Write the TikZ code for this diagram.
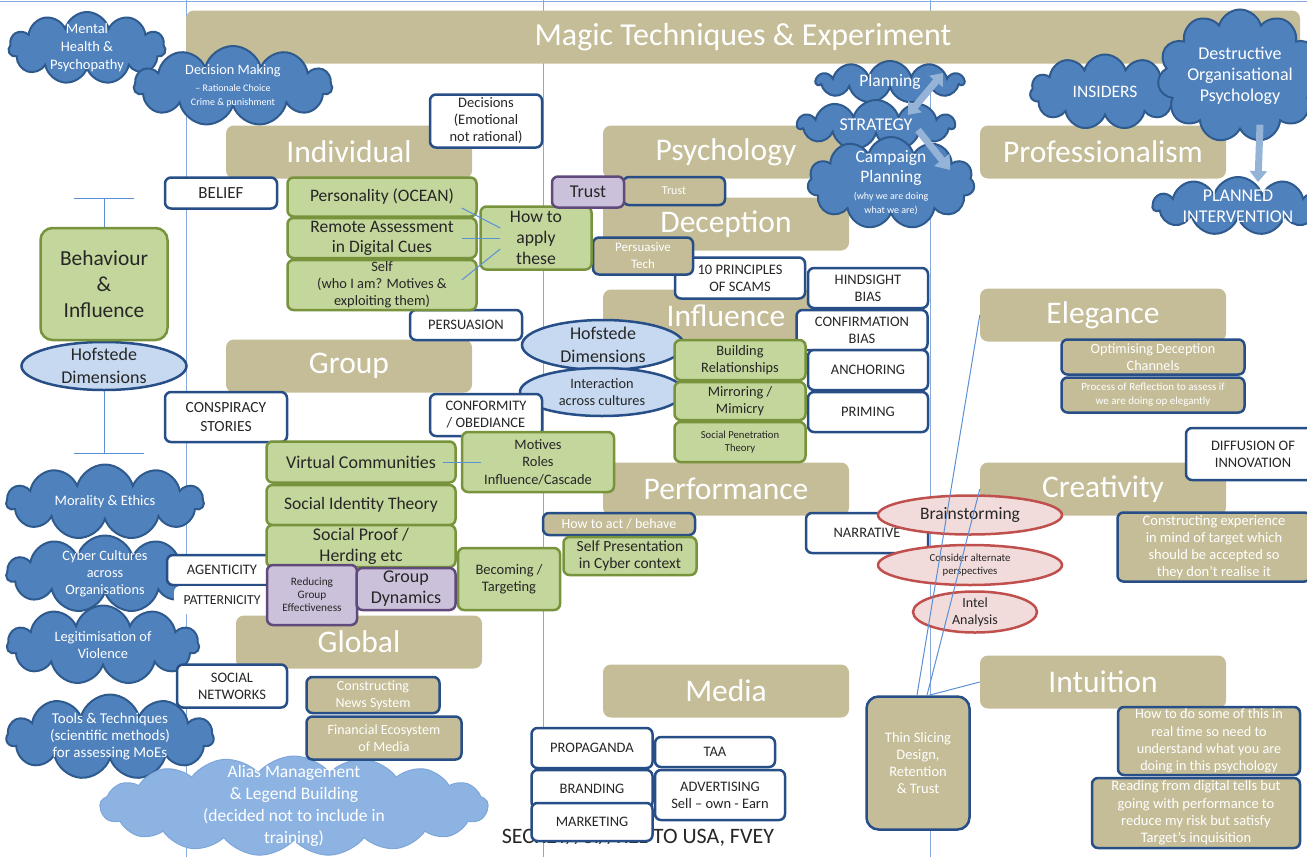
\documentclass[tikz,border=0pt]{standalone}
\usepackage{fontspec}
\setmainfont{Carlito}
\usetikzlibrary{shapes.geometric,shapes.symbols,arrows.meta}

\definecolor{tanfill}{HTML}{C4BD97}
\definecolor{boxblue}{HTML}{274E87}
\definecolor{greenfill}{HTML}{C3D69B}
\definecolor{greenline}{HTML}{77933C}
\definecolor{purplefill}{HTML}{CCC1DA}
\definecolor{purpleline}{HTML}{604A7B}
\definecolor{paleblue}{HTML}{C6D9F1}
\definecolor{cloudfill}{HTML}{4F81BD}
\definecolor{cloudline}{HTML}{2F5A8E}
\definecolor{aliasfill}{HTML}{8DB3E2}
\definecolor{aliasline}{HTML}{7EA6D9}
\definecolor{pinkfill}{HTML}{F2DCDB}
\definecolor{redline}{HTML}{C0504D}
\definecolor{linkblue}{HTML}{5B8FD6}
\definecolor{colblue}{HTML}{86AADD}
\definecolor{arrowblue}{HTML}{95B3D7}
\definecolor{textdark}{HTML}{262626}

\newcommand\fsz[2]{\fontsize{#1}{#2}\selectfont}

\tikzset{
  sz/.style 2 args={minimum width=#1pt, minimum height=#2pt},
  header/.style={rectangle, rounded corners=8pt, fill=tanfill, text=white,
    font=\fsz{31.5}{34}, minimum width=246pt, minimum height=53pt, inner sep=0pt},
  tagbox/.style={rectangle, rounded corners=6pt, draw=boxblue, line width=2.5pt,
    fill=white, text=textdark, align=center, inner sep=0pt, font=\fsz{14.5}{17}},
  tanbox/.style={tagbox, fill=tanfill, text=white, font=\fsz{14.5}{17}},
  greenbox/.style={rectangle, rounded corners=6pt, draw=greenline, fill=greenfill,
    line width=2.5pt, text=textdark, align=center, inner sep=0pt, font=\fsz{17.5}{21}},
  purplebox/.style={greenbox, draw=purpleline, fill=purplefill},
  bluecloud/.style={cloud, cloud puffs=11, cloud ignores aspect, draw=cloudline,
    fill=cloudfill, line width=2pt, text=white, align=center, inner sep=-8pt,
    font=\fsz{14.5}{18}},
  aliascloud/.style={draw=aliasline, fill=aliasfill, line width=1pt, cloud puffs=17,
    cloud puff arc=100, inner sep=-14pt},
  paleoval/.style={ellipse, draw=boxblue, fill=paleblue, line width=2.5pt, text=textdark,
    align=center, inner xsep=0pt, inner ysep=-7pt, font=\fsz{18}{23}},
  pinkoval/.style={ellipse, draw=redline, fill=pinkfill, line width=2.5pt, text=textdark,
    align=center, inner xsep=0pt, inner ysep=-5pt, font=\fsz{17.5}{20}},
  link/.style={draw=linkblue, line width=1pt},
  colline/.style={draw=colblue, line width=1pt},
  blockarrow/.style={draw=arrowblue, line width=7pt},
}

\begin{document}
\begin{tikzpicture}[x=1pt, y=-1pt]
  \useasboundingbox (0,0) rectangle (1307,857);

  % column rules
  \draw[colline] (0,1) -- (1307,1)
    (186,0) -- (186,857) (543,0) -- (543,857) (930,0) -- (930,857);

  \node[font=\fsz{22}{24}, text=textdark] (classif) at (638,837) {SECRET//SI//REL TO USA, FVEY};

  % headers
  \node[header, minimum width=1114pt, font=\fsz{32}{34}] (magic) at (743,37) {Magic Techniques \& Experiment};
  \node[header] (indiv) at (349,152) {Individual};
  \node[header] (psych) at (726,152) {Psychology};
  \node[header] (decep) at (726,224) {Deception};
  \node[header] (influ) at (726,316) {Influence};
  \node[header] (group) at (349,366) {Group};
  \node[header] (perform) at (726,489) {Performance};
  \node[header] (global) at (359,642) {Global};
  \node[header] (media) at (726,691) {Media};
  \node[header] (profess) at (1103,152) {Professionalism};
  \node[header] (elegance) at (1103,315) {Elegance};
  \node[header] (creativ) at (1103,489) {Creativity};
  \node[header] (intuit) at (1103,682) {Intuition};

  % clouds
  \node[bluecloud, sz={157}{72}] (mental) at (87,48) {Mental\\Health \&\\Psychopathy};
  \node[bluecloud, sz={198}{80}, font=\fsz{14.3}{19}] (decmake) at (233,86)
    {Decision Making\\[-2pt]\fsz{10}{13}-- Rationale Choice\\[-5pt]\fsz{10}{13}Crime \& punishment};
  \node[bluecloud, sz={147}{42}, font=\fsz{17.5}{20}] (planning) at (890,82) {Planning};
  \node[bluecloud, sz={157}{50}, font=\fsz{18}{20}] (strategy) at (876,125) {STRATEGY};
  \node[bluecloud, sz={167}{92}, font=\fsz{17.5}{20}] (campaign) at (891,183)
    {Campaign\\Planning\\[-3pt]\fsz{10}{13}(why we are doing\\[-6pt]\fsz{10}{13}what we are)};
  \node[bluecloud, sz={150}{75}, font=\fsz{17.5}{20}] (insiders) at (1105,92) {INSIDERS};
  \node[bluecloud, sz={165}{133}, font=\fsz{18}{21}] (destructive) at (1240,76)
    {Destructive\\Organisational\\Psychology};
  \node[bluecloud, sz={170}{58}, font=\fsz{18}{21}] (plannedint) at (1238,206) {PLANNED\\INTERVENTION};
  \node[bluecloud, sz={197}{75}] (morality) at (105,502) {Morality \& Ethics};
  \node[bluecloud, sz={197}{77}, font=\fsz{14.3}{17}] (cybercult) at (105,574) {Cyber Cultures\\across\\Organisations};
  \node[bluecloud, sz={192}{79}, font=\fsz{14.4}{17}] (legitim) at (103,645) {Legitimisation of\\Violence};
  \node[bluecloud, sz={207}{85}, font=\fsz{15}{17}] (tools) at (110,737)
    {Tools \& Techniques\\(scientific methods)\\for assessing MoEs};
  \node[bluecloud, aliascloud, sz={388}{100}, font=\fsz{17.5}{22}] (alias) at (294,806)
    {Alias Management\\\& Legend Building\\(decided not to include in\\training)};

  % block arrows
  \draw[blockarrow, {Triangle[length=11pt,width=17pt]}-{Triangle[length=11pt,width=17pt]}]
    ([xshift=32pt,yshift=10pt]strategy.center) -- ([xshift=53pt,yshift=9pt]planning.center);
  \draw[blockarrow, -{Triangle[length=13pt,width=19pt]}]
    ([xshift=42pt,yshift=-5pt]strategy.center) -- ([xshift=59pt,yshift=13pt]campaign.center);
  \draw[blockarrow, -{Triangle[length=11pt,width=17pt]}]
    ([xshift=20pt,yshift=6pt]destructive.south) -- ([xshift=20pt,yshift=-6pt]plannedint.north);

  % culture ovals
  \node[paleoval, sz={165}{48}] (hofleft) at (104,366) {Hofstede\\Dimensions};
  \node[paleoval, sz={162}{50}] (hofmid) at (603,345) {Hofstede\\Dimensions};
  \node[paleoval, sz={164}{48}, font=\fsz{14.3}{17}, inner ysep=-3pt] (interact) at (602,392) {Interaction\\across cultures};

  % white tags
  \node[tagbox, sz={112}{31}, font=\fsz{17}{19}] (belief) at (221,193) {BELIEF};
  \node[tagbox, sz={112}{53}] (decisions) at (486,121) {Decisions\\(Emotional\\not rational)};
  \node[tagbox, sz={112}{30}] (persuasion) at (466,325) {PERSUASION};
  \node[tagbox, sz={122}{50}, font=\fsz{15.5}{19}] (conspiracy) at (226,417) {CONSPIRACY\\STORIES};
  \node[tagbox, sz={112}{42}] (conformity) at (486,415) {CONFORMITY\\/ OBEDIANCE};
  \node[tagbox, sz={110}{30}] (agenticity) at (222,570) {AGENTICITY};
  \node[tagbox, draw=none, sz={96}{28}, font=\fsz{13.7}{16}] (patternicity) at (222,600) {PATTERNICITY};
  \node[tagbox, sz={110}{43}] (socialnet) at (232,686) {SOCIAL\\NETWORKS};
  \node[tagbox, sz={130}{41}] (scams) at (740,278) {10 PRINCIPLES\\OF SCAMS};
  \node[tagbox, sz={120}{40}] (hindsight) at (868,288) {HINDSIGHT\\BIAS};
  \node[tagbox, sz={131}{40}] (confirm) at (862,330) {CONFIRMATION\\BIAS};
  \node[tagbox, sz={120}{40}] (anchoring) at (868,370) {ANCHORING};
  \node[tagbox, sz={120}{40}] (priming) at (868,412) {PRIMING};
  \node[tagbox, sz={122}{40}] (narrative) at (867,533) {NARRATIVE};
  \node[tagbox, sz={134}{52}] (diffusion) at (1253,454) {DIFFUSION OF\\INNOVATION};
  \node[tagbox, sz={121}{40}] (propaganda) at (592,748) {PROPAGANDA};
  \node[tagbox, sz={120}{30}] (taa) at (715,752) {TAA};
  \node[tagbox, sz={121}{38}] (branding) at (592,789) {BRANDING};
  \node[tagbox, sz={130}{50}] (advertising) at (720,795) {ADVERTISING\\Sell -- own - Earn};
  \node[tagbox, sz={121}{38}] (marketing) at (592,822) {MARKETING};

  % tan tags
  \node[tanbox, sz={102}{28}, font=\fsz{12}{14}] (trusttan) at (674,191) {Trust};
  \node[tanbox, sz={100}{37}, font=\fsz{13}{17}] (perstech) at (643,256) {Persuasive\\Tech};
  \node[tanbox, sz={152}{22}, font=\fsz{14}{15}] (howact) at (619,524) {How to act / behave};
  \node[tanbox, sz={183}{35}, font=\fsz{14.2}{17}] (optimising) at (1153,357) {Optimising Deception\\Channels};
  \node[tanbox, sz={183}{35}, font=\fsz{11}{14}] (reflection) at (1153,395)
    {Process of Reflection to assess if\\we are doing op elegantly};
  \node[tanbox, sz={193}{69}] (constructexp) at (1214,547)
    {Constructing experience\\in mind of target which\\should be accepted so\\they don't realise it};
  \node[tanbox, sz={133}{36}, font=\fsz{14}{17}] (newssys) at (373,695) {Constructing\\News System};
  \node[tanbox, sz={155}{43}, font=\fsz{14}{17}] (finance) at (384,738) {Financial Ecosystem\\of Media};
  \node[tanbox, sz={103}{133}, rounded corners=12pt] (thinslice) at (918,763)
    {Thin Slicing\\Design,\\Retention\\\& Trust};
  \node[tanbox, sz={182}{68}, font=\fsz{14.2}{17.3}] (howdo) at (1209,741)
    {How to do some of this in\\real time so need to\\understand what you are\\doing in this psychology};
  \node[tanbox, sz={208}{70}, font=\fsz{14.5}{17.3}] (reading) at (1196,813)
    {Reading from digital tells but\\going with performance to\\reduce my risk but satisfy\\Target's inquisition};

  % green topics
  \node[greenbox, sz={127}{112}, rounded corners=12pt, font=\fsz{21.4}{26}] (behaviour) at (104,284) {Behaviour\\\&\\Influence};
  \node[greenbox, sz={189}{39}] (personality) at (382,197) {Personality (OCEAN)};
  \node[greenbox, sz={189}{40}, font=\fsz{17.5}{20}] (remote) at (382,238) {Remote Assessment\\in Digital Cues};
  \node[greenbox, sz={189}{50}, font=\fsz{14.4}{17}] (selfbox) at (382,285) {Self\\(who I am? Motives \&\\exploiting them)};
  \node[greenbox, sz={111}{63}, font=\fsz{17.7}{21}] (howapply) at (536,238) {How to\\apply\\these};
  \node[greenbox, sz={131}{40}, font=\fsz{14.4}{17}] (building) at (740,360) {Building\\Relationships};
  \node[greenbox, sz={131}{38}, font=\fsz{14.4}{17}] (mirroring) at (740,401) {Mirroring /\\Mimicry};
  \node[greenbox, sz={131}{40}, font=\fsz{10.7}{13.5}] (socpen) at (740,442) {Social Penetration\\Theory};
  \node[greenbox, sz={152}{60}, font=\fsz{14.4}{17.5}] (motives) at (538,462) {Motives\\Roles\\Influence/Cascade};
  \node[greenbox, sz={189}{41}, font=\fsz{18}{21}] (virtual) at (361,462) {Virtual Communities};
  \node[greenbox, sz={189}{40}] (socident) at (361,505) {Social Identity Theory};
  \node[greenbox, sz={189}{42}, font=\fsz{17.8}{21}] (socproof) at (361,546) {Social Proof /\\Herding etc};
  \node[greenbox, sz={102}{62}, font=\fsz{14.5}{17}] (becoming) at (509,579) {Becoming /\\Targeting};
  \node[greenbox, sz={133}{38}, font=\fsz{15.5}{17}] (selfpres) at (630,556) {Self Presentation\\in Cyber context};

  % purple topics
  \node[purplebox, sz={72}{31}, font=\fsz{18}{20}] (trustpurple) at (588,192) {Trust};
  \node[purplebox, sz={90}{60}, font=\fsz{11.3}{13}] (reducing) at (312,595) {Reducing\\Group\\Effectiveness};
  \node[purplebox, sz={99}{42}, font=\fsz{18}{21}] (groupdyn) at (406,589) {Group\\Dynamics};

  % creative ovals
  \node[pinkoval, sz={184}{39}] (brainstorm) at (970,515) {Brainstorming};
  \node[pinkoval, sz={184}{40}, font=\fsz{10.8}{13.5}] (consider) at (970,565) {Consider alternate\\perspectives};
  \node[pinkoval, sz={124}{41}, font=\fsz{14}{17}] (intel) at (975,612) {Intel\\Analysis};

  % connectors
  \coordinate (behavtop) at (104,198);
  \coordinate (hofbase) at (104,453);
  \draw[link] (behaviour.north) -- (behavtop)
    ([xshift=-30pt]behavtop) -- ([xshift=30pt]behavtop);
  \draw[link] (hofleft.south) -- (hofbase)
    ([xshift=-30pt]hofbase) -- ([xshift=40pt]hofbase);
  \path[link]
    ([xshift=-16pt,yshift=-11pt]personality.east)
        edge ([xshift=21pt,yshift=10pt]howapply.west)
    ([xshift=-16pt]remote.east)
        edge ([xshift=21pt]howapply.west)
    ([xshift=-16pt,yshift=5pt]selfbox.east)
        edge ([xshift=21pt,yshift=-11pt]howapply.west)
    ([xshift=-14pt]virtual.east)
        edge ([xshift=20pt]motives.west)
    ([xshift=-1pt]thinslice.north)
        edge (elegance.west)
    ([xshift=9pt]thinslice.north)
        edge (creativ.west)
    ([xshift=11pt]thinslice.north)
        edge (intuit.west);
\end{tikzpicture}
\end{document}
